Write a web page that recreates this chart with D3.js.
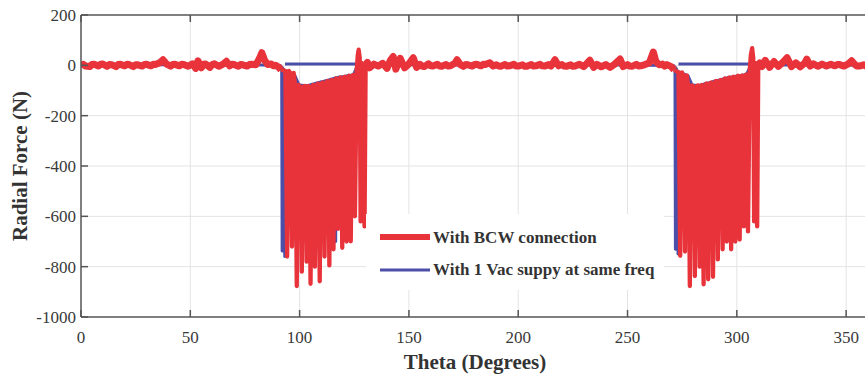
<!DOCTYPE html>
<html><head><meta charset="utf-8">
<script src="https://cdn.jsdelivr.net/npm/d3@7/dist/d3.min.js"></script>
<style>html,body{margin:0;padding:0;background:#fff;overflow:hidden}</style>
</head><body><svg id="c" width="865" height="375"></svg>
<script>
// ---------- data ----------
const xTicks = [0, 50, 100, 150, 200, 250, 300, 350];
const yTicks = [200, 0, -200, -400, -600, -800, -1000];
const seriesNames = ["With BCW connection", "With 1 Vac suppy at same freq"];

// red (BCW) quiet baseline segments [theta, N]
const redBaseA = [[0,-2],[1,4],[2,-3],[4,-5],[5,3],[6,4],[8,-3],[9,4],[10,5],[12,-4],[13,3],[14,2],[16,-5],[17,3],[18,4],[20,-2],[21,4],[22,3],[24,-5],[25,2],[26,2],[28,-3],[29,3],[30,4],[32,-2],[33,4],[34,3],[36,10],[37.5,22],[39,6],[41,-3],[42,3],[43,4],[45,-2],[46,4],[47,3],[49,-4],[51,6],[52.5,-12],[53.5,18],[55,-10],[56,4],[57,5],[59,-8],[60,3],[61,6],[63,-4],[65,5],[66.5,16],[68,-2],[69,4],[70,3],[72,-4],[73,3],[74,2],[76,-3],[77,3],[78,4],[80,2],[81.5,25],[82.7,50],[84,20],[85.5,3],[87,5],[88,-2],[89,0],[90.5,-8],[91.5,-18]];
const redBaseB = [[131,12],[132,-10],[134,5],[136,-3],[138,8],[140,-12],[141.5,20],[142.8,35],[144,-15],[146,28],[148,-10],[150,6],[152,30],[153.5,-8],[155,4],[156,-3],[157,-5],[159,6],[160,-2],[161,-3],[163,4],[164,-3],[165,-4],[167,3],[168,-3],[169,-2],[171,8],[172,22],[173.5,3],[175,-4],[176,3],[177,2],[179,-3],[180,3],[181,4],[183,-2],[184,4],[185,3],[187,10],[188.5,-3],[190,2],[191,-3],[192,-4],[194,3],[195,-3],[196,-2],[198,4],[199,-3],[200,-3],[202,2],[203,-4],[204,-4],[206,3],[207,-3],[208,-2],[210,4],[211,-2],[212,-3],[214,3],[215,-3],[216.8,22],[218.5,-2],[220,3],[221,-3],[222,-4],[224,2],[225,-4],[226,-3],[228,4],[230,-5],[232.8,20],[234.5,-8],[236,4],[238,-6],[240,3],[242,-8],[244,4],[246.6,25],[248,-5],[250,3],[251,-3],[252,-4],[254,4],[255,-3],[256,-2],[258,3],[260,10],[261.8,53],[263,15],[264.5,2],[266,5],[267,-3],[268,3],[270,-5],[271.3,-18]];
const redBaseC = [[310.5,10],[311.5,-5],[313,20],[315,-8],[317,15],[319,-4],[321,12],[323,30],[325,-5],[327,10],[329,-6],[331,8],[332,25],[333.5,-3],[335,6],[337,-4],[339,5],[341,-3],[343,4],[345,-2],[346,3],[347,3],[349,-3],[351,6],[352.5,18],[354,3],[355,-3],[356,-3],[358,2],[359,-3],[360,-2]];

// red spike bursts: spike centre theta, minimum value, top level between spikes
const redSpikeTheta1 = [94.3,96.5,98.7,101.0,103.2,105.0,107.0,109.2,111.4,113.6,115.5,117.5,119.5,121.5,123.4,125.3];
const redSpikeMin1   = [-760,-720,-877,-820,-780,-868,-800,-858,-760,-795,-731,-650,-725,-700,-699,-600];
const redSpikeTop1   = [-22,-30,-78,-85,-82,-84,-78,-72,-68,-62,-58,-52,-48,-45,-42,-38];
const redTail1 = [[126.1,-20],[126.6,40],[127.0,62],[127.5,30],[127.9,-620],[128.4,10],[129.7,-640],[130.2,0]];

const redSpikeTheta2 = [274.1,276.3,278.5,280.8,283.0,284.8,286.9,289.1,291.3,293.5,295.4,297.4,299.3,301.3,303.2,305.1];
const redSpikeMin2   = [-757,-740,-877,-837,-800,-870,-850,-840,-771,-731,-700,-731,-700,-692,-640,-660];
const redSpikeTop2   = [-28,-40,-80,-83,-80,-78,-72,-68,-62,-58,-52,-48,-45,-42,-40,-36];
const redTail2 = [[305.9,-20],[306.4,40],[307.0,68],[307.5,30],[307.9,-620],[308.4,10],[309.3,-640],[309.8,0]];

// blue (1 Vac supply) segments
const blueBaseA = [[0,0],[20,1],[40,2],[60,0],[80,2],[91.3,-2]];
const blueSpikeTheta1 = [92.0,93.2,97.6,99.9,102.1,104.1,106.0,108.1,110.3,112.5,114.6,116.5,118.5,120.5,122.5,124.4];
const blueSpikeMin1   = [-738,-760,-600,-520,-430,-650,-420,-500,-600,-380,-600,-700,-520,-330,-600,-300];
const blueSpikeTop1   = [-10,-22,-40,-78,-80,-80,-75,-70,-65,-60,-55,-50,-46,-44,-40,-38];
const blueBaseB = [[126.5,0],[150,2],[200,0],[250,2],[271.2,-2]];
const blueSpikeTheta2 = [271.9,273.1,277.4,279.7,281.9,283.9,285.9,288.0,290.2,292.4,294.5,296.4,298.4,300.3,302.3,304.2];
const blueSpikeMin2   = [-731,-750,-620,-500,-450,-640,-420,-520,-580,-400,-600,-690,-520,-350,-580,-300];
const blueSpikeTop2   = [-10,-25,-40,-78,-80,-78,-72,-68,-62,-58,-52,-48,-45,-42,-40,-36];
const blueBaseC = [[306.4,0],[330,2],[360,0]];
const blueFlat1 = [[93.3,5],[128.5,5]];
const blueFlat2 = [[273.3,5],[308.5,5]];

// ---------- drawing ----------
const svg = d3.select("#c");
const L = 81, R = 868, T = 15, B = 317;
const x = d3.scaleLinear().domain([0, 360]).range([L, R]);
const y = d3.scaleLinear().domain([-1000, 200]).range([B, T]);
const RED = "#e8333b", BLUE = "#4c4fa8", AX = "#555";
const serif = "'Liberation Serif','Times New Roman',serif";

function burst(ts, mins, tops, hw) {
  const out = [];
  ts.forEach((t, i) => { out.push([t - hw, tops[i]], [t, mins[i]], [t + hw, tops[i]]); });
  return out;
}

const redB1 = burst(redSpikeTheta1, redSpikeMin1, redSpikeTop1, 0.8).concat(redTail1);
const redB2 = burst(redSpikeTheta2, redSpikeMin2, redSpikeTop2, 0.8).concat(redTail2);
const last = a => a[a.length - 1];
// red series split into quiet and burst parts (continuous)
const redQuiet = [redBaseA, [last(redB1)].concat(redBaseB), [last(redB2)].concat(redBaseC)];
const redBurst = [[last(redBaseA)].concat(redB1, [redBaseB[0]]), [last(redBaseB)].concat(redB2, [redBaseC[0]])];

const blueData = [].concat(blueBaseA, burst(blueSpikeTheta1, blueSpikeMin1, blueSpikeTop1, 0.2),
  blueBaseB, burst(blueSpikeTheta2, blueSpikeMin2, blueSpikeTop2, 0.2), blueBaseC);

svg.append("defs").append("clipPath").attr("id", "clip")
  .append("rect").attr("x", L).attr("y", T).attr("width", R - L).attr("height", B - T);

// grid
const g = svg.append("g");
g.selectAll(".gx").data(xTicks.filter(d => d > 0)).join("line")
  .attr("x1", d => x(d)).attr("x2", d => x(d)).attr("y1", T).attr("y2", B)
  .attr("stroke", "#e3e3e3").attr("stroke-width", 1);
g.selectAll(".gy").data(yTicks.filter(d => d > -1000 && d < 200)).join("line")
  .attr("x1", L).attr("x2", R).attr("y1", d => y(d)).attr("y2", d => y(d))
  .attr("stroke", "#e3e3e3").attr("stroke-width", 1);

const line = d3.line().x(d => x(d[0])).y(d => y(d[1]));
const plot = svg.append("g").attr("clip-path", "url(#clip)");
plot.append("path").datum(blueData).attr("d", line).attr("fill", "none")
  .attr("stroke", BLUE).attr("stroke-width", 3).attr("stroke-linejoin", "round");
[blueFlat1, blueFlat2].forEach(s => plot.append("path").datum(s).attr("d", line)
  .attr("fill", "none").attr("stroke", BLUE).attr("stroke-width", 3));
redQuiet.forEach(s => plot.append("path").datum(s).attr("d", line).attr("fill", "none")
  .attr("stroke", RED).attr("stroke-width", 7).attr("stroke-linejoin", "round"));
redBurst.forEach(s => plot.append("path").datum(s).attr("d", line).attr("fill", "none")
  .attr("stroke", RED).attr("stroke-width", 4.3).attr("stroke-linejoin", "round"));

// legend
const lg = svg.append("g");
lg.append("rect").attr("x", 366).attr("y", 214).attr("width", 298).attr("height", 76).attr("fill", "#fff");
[[RED, 6, 237, 243], [BLUE, 3, 270, 275]].forEach((s, i) => {
  lg.append("line").attr("x1", 380).attr("x2", 430).attr("y1", s[2]).attr("y2", s[2])
    .attr("stroke", s[0]).attr("stroke-width", s[1]);
  lg.append("text").attr("x", 433).attr("y", s[3]).text(seriesNames[i])
    .attr("font-family", serif).attr("font-weight", "bold").attr("font-size", 17).attr("fill", "#333");
});

// axes box
const ax = svg.append("g").attr("stroke", AX).attr("stroke-width", 1.5).attr("fill", "none");
ax.append("line").attr("x1", L).attr("x2", R).attr("y1", B).attr("y2", B);
ax.append("line").attr("x1", L).attr("x2", R).attr("y1", T).attr("y2", T);
ax.append("line").attr("x1", L).attr("x2", L).attr("y1", T).attr("y2", B);
ax.append("line").attr("x1", R).attr("x2", R).attr("y1", T).attr("y2", B);
xTicks.forEach(d => {
  ax.append("line").attr("x1", x(d)).attr("x2", x(d)).attr("y1", B).attr("y2", B - 7);
  ax.append("line").attr("x1", x(d)).attr("x2", x(d)).attr("y1", T).attr("y2", T + 7);
});
yTicks.forEach(d => {
  ax.append("line").attr("x1", L).attr("x2", L + 7).attr("y1", y(d)).attr("y2", y(d));
});

// tick labels
svg.append("g").selectAll("text").data(xTicks).join("text")
  .attr("x", d => x(d)).attr("y", 343).attr("text-anchor", "middle").text(d => d)
  .attr("font-family", serif).attr("font-size", 17).attr("fill", "#3a3a3a");
svg.append("g").selectAll("text").data(yTicks).join("text")
  .attr("x", 76).attr("y", d => y(d)).attr("dy", "0.35em").attr("text-anchor", "end").text(d => d)
  .attr("font-family", serif).attr("font-size", 17).attr("fill", "#3a3a3a");

// axis titles
svg.append("text").attr("x", 475).attr("y", 369).attr("text-anchor", "middle").text("Theta (Degrees)")
  .attr("font-family", serif).attr("font-weight", "bold").attr("font-size", 21).attr("fill", "#333");
svg.append("text").attr("transform", "translate(27,166) rotate(-90)").attr("text-anchor", "middle")
  .text("Radial Force (N)").attr("font-family", serif).attr("font-weight", "bold")
  .attr("font-size", 21).attr("fill", "#333");
</script></body></html>
